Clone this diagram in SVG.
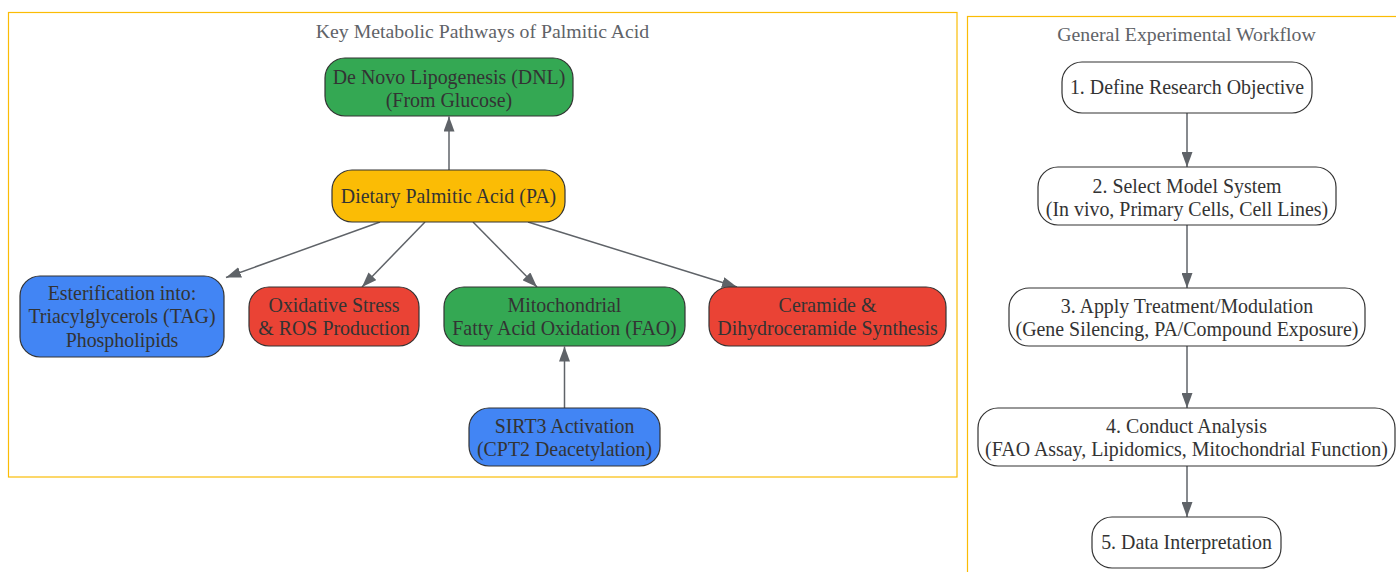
<svg xmlns="http://www.w3.org/2000/svg" width="1396" height="572" viewBox="0 0 1396 572">
<style>
  .cluster { fill: #ffffff; stroke: #FBBC05; stroke-width: 1.2; }
  .ctitle { font-family: "Liberation Serif", "Times New Roman", serif; font-size: 19.8px; fill: #5f6368; text-anchor: middle; }
  .node rect { stroke: #333333; stroke-width: 1.2; }
  .node text { font-family: "Liberation Serif", "Times New Roman", serif; font-size: 19.9px; fill: #333333; text-anchor: middle; }
  .green { fill: #34A853; }
  .yellow { fill: #FBBC05; }
  .blue { fill: #4285F4; }
  .red { fill: #EA4335; }
  .white { fill: #ffffff; stroke: #666666; }
  .edge { stroke: #5f6368; stroke-width: 1.5; fill: none; marker-end: url(#arrow); }
</style>
<defs>
  <marker id="arrow" viewBox="0 0 15 11" markerWidth="15" markerHeight="11" refX="15" refY="5.5" orient="auto" markerUnits="userSpaceOnUse">
    <path d="M0,0 L15,5.5 L0,11 z" fill="#5f6368"/>
  </marker>
</defs>
<rect width="1396" height="572" fill="#ffffff"/>

<g id="cluster-pathways">
  <rect class="cluster" x="8.5" y="12.5" width="948.5" height="464.5"/>
  <text class="ctitle" x="482.5" y="37.5">Key Metabolic Pathways of Palmitic Acid</text>
</g>
<g id="cluster-workflow">
  <rect class="cluster" x="967.5" y="16.5" width="440" height="570"/>
  <text class="ctitle" x="1186.5" y="40.5">General Experimental Workflow</text>
</g>

<g id="connectors">
  <line class="edge" x1="449" y1="170" x2="449" y2="116.5"/>
  <line class="edge" x1="380" y1="222" x2="226" y2="277.5"/>
  <line class="edge" x1="425" y1="222" x2="362" y2="287"/>
  <line class="edge" x1="473" y1="222" x2="537" y2="287"/>
  <line class="edge" x1="528" y1="222" x2="737" y2="287"/>
  <line class="edge" x1="564.5" y1="408" x2="564.5" y2="346.5"/>
  <line class="edge" x1="1187" y1="113" x2="1187" y2="167"/>
  <line class="edge" x1="1187" y1="225" x2="1187" y2="288"/>
  <line class="edge" x1="1187" y1="346" x2="1187" y2="408"/>
  <line class="edge" x1="1187" y1="466" x2="1187" y2="517"/>
</g>

<g id="node-dnl" class="node">
  <rect class="green" x="325" y="58" width="248" height="58" rx="20" ry="20"/>
  <text x="449" y="83.5">De Novo Lipogenesis (DNL)</text>
  <text x="449" y="106.8">(From Glucose)</text>
</g>
<g id="node-pa" class="node">
  <rect class="yellow" x="332" y="170" width="233" height="52" rx="20" ry="20"/>
  <text x="448.5" y="202.8">Dietary Palmitic Acid (PA)</text>
</g>
<g id="node-ester" class="node">
  <rect class="blue" x="20" y="276" width="204" height="81" rx="20" ry="20"/>
  <text x="122" y="300">Esterification into:</text>
  <text x="122" y="323.3">Triacylglycerols (TAG)</text>
  <text x="122" y="346.6">Phospholipids</text>
</g>
<g id="node-ros" class="node">
  <rect class="red" x="249" y="287" width="170" height="59" rx="20" ry="20"/>
  <text x="334" y="312">Oxidative Stress</text>
  <text x="334" y="335.3">&amp; ROS Production</text>
</g>
<g id="node-fao" class="node">
  <rect class="green" x="444" y="287" width="241" height="59" rx="20" ry="20"/>
  <text x="564.5" y="312">Mitochondrial</text>
  <text x="564.5" y="335.3">Fatty Acid Oxidation (FAO)</text>
</g>
<g id="node-ceramide" class="node">
  <rect class="red" x="709" y="287" width="237" height="59" rx="20" ry="20"/>
  <text x="827.5" y="312">Ceramide &amp;</text>
  <text x="827.5" y="335.3">Dihydroceramide Synthesis</text>
</g>
<g id="node-sirt3" class="node">
  <rect class="blue" x="469" y="408" width="191" height="58" rx="20" ry="20"/>
  <text x="564.5" y="433">SIRT3 Activation</text>
  <text x="564.5" y="456.3">(CPT2 Deacetylation)</text>
</g>

<g id="node-step1" class="node">
  <rect class="white" x="1062" y="62" width="250" height="51" rx="20" ry="20"/>
  <text x="1187" y="94.2">1. Define Research Objective</text>
</g>
<g id="node-step2" class="node">
  <rect class="white" x="1038" y="167" width="298" height="58" rx="20" ry="20"/>
  <text x="1187" y="192.5">2. Select Model System</text>
  <text x="1187" y="215.8">(In vivo, Primary Cells, Cell Lines)</text>
</g>
<g id="node-step3" class="node">
  <rect class="white" x="1009" y="288" width="356" height="58" rx="20" ry="20"/>
  <text x="1187" y="312.5">3. Apply Treatment/Modulation</text>
  <text x="1187" y="335.8">(Gene Silencing, PA/Compound Exposure)</text>
</g>
<g id="node-step4" class="node">
  <rect class="white" x="978" y="408" width="417" height="58" rx="20" ry="20"/>
  <text x="1186.5" y="432.5">4. Conduct Analysis</text>
  <text x="1186.5" y="455.8">(FAO Assay, Lipidomics, Mitochondrial Function)</text>
</g>
<g id="node-step5" class="node">
  <rect class="white" x="1092" y="517" width="189" height="51" rx="20" ry="20"/>
  <text x="1186.5" y="549.2">5. Data Interpretation</text>
</g>
</svg>
